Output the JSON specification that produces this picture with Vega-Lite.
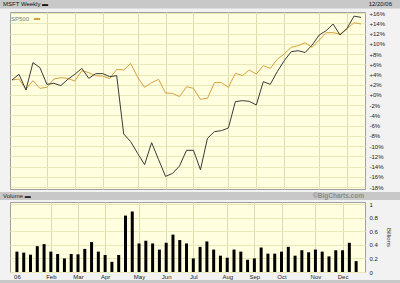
{
  "$schema": "https://vega.github.io/schema/vega-lite/v6.json",
  "background": "#f2f2f2",
  "padding": 0,
  "spacing": 0,
  "config": {
    "font": "Liberation Sans",
    "view": {"fill": "#ffffe0", "stroke": "#a0a0a0", "strokeWidth": 1},
    "axis": {"labelFont": "Liberation Sans", "labelFontSize": 6, "labelColor": "#222222", "domain": false, "ticks": false, "title": null, "gridWidth": 1},
    "text": {"font": "Liberation Sans"}
  },
  "data": {
    "values": [
      {"d": "2006-01-02", "m": 2.93, "s": 2.93, "v": 0.30},
      {"d": "2006-01-09", "m": 4.04, "s": 3.12, "v": 0.285},
      {"d": "2006-01-16", "m": 0.98, "s": 1.10, "v": 0.255},
      {"d": "2006-01-23", "m": 6.31, "s": 2.80, "v": 0.38},
      {"d": "2006-01-30", "m": 5.34, "s": 1.30, "v": 0.41},
      {"d": "2006-02-06", "m": 2.08, "s": 1.50, "v": 0.30},
      {"d": "2006-02-13", "m": 2.28, "s": 3.12, "v": 0.265},
      {"d": "2006-02-20", "m": 1.83, "s": 3.38, "v": 0.20},
      {"d": "2006-02-27", "m": 3.06, "s": 3.25, "v": 0.265},
      {"d": "2006-03-06", "m": 4.04, "s": 2.73, "v": 0.26},
      {"d": "2006-03-13", "m": 5.20, "s": 4.75, "v": 0.34},
      {"d": "2006-03-20", "m": 3.25, "s": 4.36, "v": 0.44},
      {"d": "2006-03-27", "m": 4.17, "s": 3.77, "v": 0.30},
      {"d": "2006-04-03", "m": 4.17, "s": 3.70, "v": 0.25},
      {"d": "2006-04-10", "m": 3.58, "s": 3.19, "v": 0.15},
      {"d": "2006-04-17", "m": 3.77, "s": 5.00, "v": 0.25},
      {"d": "2006-04-24", "m": -7.6, "s": 4.88, "v": 0.83},
      {"d": "2006-05-01", "m": -9.1, "s": 6.18, "v": 0.89},
      {"d": "2006-05-08", "m": -11.4, "s": 3.45, "v": 0.42},
      {"d": "2006-05-15", "m": -13.6, "s": 1.50, "v": 0.46},
      {"d": "2006-05-22", "m": -9.3, "s": 2.41, "v": 0.42},
      {"d": "2006-05-29", "m": -12.6, "s": 3.06, "v": 0.33},
      {"d": "2006-06-05", "m": -15.9, "s": 0.39, "v": 0.43},
      {"d": "2006-06-12", "m": -15.3, "s": 0.32, "v": 0.55},
      {"d": "2006-06-19", "m": -13.85, "s": -0.32, "v": 0.47},
      {"d": "2006-06-26", "m": -10.8, "s": 1.62, "v": 0.42},
      {"d": "2006-07-03", "m": -10.8, "s": 1.30, "v": 0.20},
      {"d": "2006-07-10", "m": -14.6, "s": -0.84, "v": 0.37},
      {"d": "2006-07-17", "m": -8.45, "s": -0.65, "v": 0.45},
      {"d": "2006-07-24", "m": -7.15, "s": 2.41, "v": 0.33},
      {"d": "2006-07-31", "m": -6.96, "s": 2.41, "v": 0.24},
      {"d": "2006-08-07", "m": -6.44, "s": 1.50, "v": 0.21},
      {"d": "2006-08-14", "m": -1.3, "s": 4.23, "v": 0.33},
      {"d": "2006-08-21", "m": -1.1, "s": 3.77, "v": 0.30},
      {"d": "2006-08-28", "m": -1.24, "s": 4.88, "v": 0.18},
      {"d": "2006-09-04", "m": -1.95, "s": 4.10, "v": 0.20},
      {"d": "2006-09-11", "m": 2.6, "s": 5.72, "v": 0.36},
      {"d": "2006-09-18", "m": 2.08, "s": 5.20, "v": 0.27},
      {"d": "2006-09-25", "m": 4.55, "s": 6.96, "v": 0.27},
      {"d": "2006-10-02", "m": 6.7, "s": 8.00, "v": 0.30},
      {"d": "2006-10-09", "m": 8.45, "s": 9.30, "v": 0.37},
      {"d": "2006-10-16", "m": 8.65, "s": 9.63, "v": 0.24},
      {"d": "2006-10-23", "m": 8.3, "s": 10.2, "v": 0.32},
      {"d": "2006-10-30", "m": 9.75, "s": 9.30, "v": 0.29},
      {"d": "2006-11-06", "m": 11.7, "s": 10.7, "v": 0.33},
      {"d": "2006-11-13", "m": 12.55, "s": 12.16, "v": 0.30},
      {"d": "2006-11-20", "m": 13.85, "s": 12.16, "v": 0.23},
      {"d": "2006-11-27", "m": 11.7, "s": 11.9, "v": 0.32},
      {"d": "2006-12-04", "m": 13.0, "s": 12.9, "v": 0.32},
      {"d": "2006-12-11", "m": 15.4, "s": 14.1, "v": 0.43},
      {"d": "2006-12-18", "m": 15.15, "s": 13.85, "v": 0.16}
    ],
    "format": {"parse": {"d": "date:'%Y-%m-%d'"}}
  },
  "resolve": {"scale": {"color": "independent"}, "legend": {"color": "independent"}},
  "vconcat": [
    {
      "width": 400,
      "height": 8.5,
      "view": {"fill": "#c8c8c8", "stroke": null},
      "data": {"values": [{"t": "MSFT Weekly ▬", "side": "l"}, {"t": "12/20/06", "side": "r"}]},
      "encoding": {
        "x": {"field": "side", "type": "nominal", "scale": {"type": "point", "domain": ["l", "r"], "padding": 0}, "axis": null},
        "text": {"field": "t"}
      },
      "layer": [
        {"transform": [{"filter": "datum.side == 'l'"}], "mark": {"type": "text", "align": "left", "dx": 3, "fontSize": 6, "color": "#111111", "baseline": "middle"}},
        {"transform": [{"filter": "datum.side == 'r'"}], "mark": {"type": "text", "align": "right", "dx": -8, "fontSize": 6, "color": "#111111", "baseline": "middle"}}
      ]
    },
    {
      "spacing": 0,
      "resolve": {"scale": {"color": "independent"}, "legend": {"color": "independent"}},
      "hconcat": [
        {
          "width": 9,
          "height": 180,
          "view": {"fill": null, "stroke": null},
          "data": {"values": []},
          "mark": {"type": "point", "opacity": 0}
        },
        {
          "width": 355,
          "height": 177,
          "transform": [{"fold": ["s", "m"], "as": ["k", "p"]}],
          "mark": {"type": "line", "strokeWidth": 1},
          "encoding": {
            "x": {
              "field": "d", "type": "temporal",
              "scale": {"domain": [{"year": 2005, "month": 12, "date": 31}, {"year": 2006, "month": 12, "date": 22}]},
              "axis": {
                "values": [{"year": 2006, "month": 1, "date": 2}, {"year": 2006, "month": 2, "date": 6}, {"year": 2006, "month": 3, "date": 6}, {"year": 2006, "month": 4, "date": 3}, {"year": 2006, "month": 5, "date": 8}, {"year": 2006, "month": 6, "date": 5}, {"year": 2006, "month": 7, "date": 3}, {"year": 2006, "month": 8, "date": 7}, {"year": 2006, "month": 9, "date": 4}, {"year": 2006, "month": 10, "date": 2}, {"year": 2006, "month": 11, "date": 6}, {"year": 2006, "month": 12, "date": 4}],
                "labels": false, "grid": true, "gridColor": "#dcdcae",
                "gridOpacity": {"condition": {"test": "month(datum.value) == 0", "value": 0}, "value": 1}
              }
            },
            "y": {
              "field": "p", "type": "quantitative",
              "scale": {"domain": [-18.35, 16.2], "nice": false, "zero": false},
              "axis": {
                "orient": "right", "grid": true, "gridColor": "#e8e8b8",
                "values": [-18, -16, -14, -12, -10, -8, -6, -4, -2, 0, 2, 4, 6, 8, 10, 12, 14, 16],
                "labelExpr": "(datum.value >= 0 ? '+' : '') + datum.value + '%'",
                "labelPadding": 4
              }
            },
            "color": {
              "field": "k", "type": "nominal",
              "scale": {"domain": ["s", "m"], "range": ["#d6a03c", "#3a3a3a"]},
              "legend": {
                "values": ["s"], "title": "SP500", "titleOrient": "left", "labelExpr": "''",
                "orient": "none", "legendX": 1, "legendY": 2,
                "symbolType": "stroke", "symbolStrokeWidth": 2, "symbolSize": 40,
                "titleFont": "Liberation Sans", "titleFontSize": 6, "titleFontWeight": "normal", "titleColor": "#777777", "titlePadding": 2,
                "padding": 0
              }
            }
          }
        }
      ]
    },
    {
      "width": 400,
      "height": 8,
      "view": {"fill": "#c8c8c8", "stroke": null},
      "data": {"values": [{"t": "Volume ▬", "side": "l"}, {"t": "©BigCharts.com", "side": "r"}]},
      "encoding": {
        "x": {"field": "side", "type": "nominal", "scale": {"type": "point", "domain": ["l", "r"], "padding": 0}, "axis": null},
        "text": {"field": "t"}
      },
      "layer": [
        {"transform": [{"filter": "datum.side == 'l'"}], "mark": {"type": "text", "align": "left", "dx": 3, "fontSize": 6, "color": "#222222", "baseline": "middle"}},
        {"transform": [{"filter": "datum.side == 'r'"}], "mark": {"type": "text", "align": "right", "dx": -36, "fontSize": 6.5, "fontWeight": "bold", "color": "#8a8a8a", "baseline": "middle"}}
      ]
    },
    {
      "spacing": 0,
      "hconcat": [
        {
          "width": 9,
          "height": 70,
          "view": {"fill": null, "stroke": null},
          "data": {"values": []},
          "mark": {"type": "point", "opacity": 0}
        },
        {
          "width": 355,
          "height": 70,
          "mark": {"type": "bar", "size": 3, "color": "#000000"},
          "encoding": {
            "x": {
              "field": "d", "type": "temporal",
              "scale": {"domain": [{"year": 2005, "month": 12, "date": 31}, {"year": 2006, "month": 12, "date": 22}]},
              "axis": {
                "values": [{"year": 2006, "month": 1, "date": 2}, {"year": 2006, "month": 2, "date": 6}, {"year": 2006, "month": 3, "date": 6}, {"year": 2006, "month": 4, "date": 3}, {"year": 2006, "month": 5, "date": 8}, {"year": 2006, "month": 6, "date": 5}, {"year": 2006, "month": 7, "date": 3}, {"year": 2006, "month": 8, "date": 7}, {"year": 2006, "month": 9, "date": 4}, {"year": 2006, "month": 10, "date": 2}, {"year": 2006, "month": 11, "date": 6}, {"year": 2006, "month": 12, "date": 4}],
                "labelExpr": "month(datum.value) == 0 ? '06' : timeFormat(datum.value, '%b')",
                "labelPadding": 1, "grid": true, "gridColor": "#dcdcae",
                "gridOpacity": {"condition": {"test": "month(datum.value) == 0", "value": 0}, "value": 1}
              }
            },
            "y": {
              "field": "v", "type": "quantitative",
              "scale": {"domain": [0, 1.03], "nice": false},
              "axis": {
                "orient": "right", "grid": true, "gridColor": "#e8e8b8",
                "values": [0, 0.2, 0.4, 0.6, 0.8, 1], "format": "~g",
                "labelPadding": 4, "title": "Billions", "titleAngle": 90,
                "titleFontSize": 6, "titleFontWeight": "normal", "titleColor": "#333333", "titlePadding": 8
              }
            }
          }
        }
      ]
    },
    {
      "width": 400,
      "height": 3,
      "view": {"fill": "#c8c8c8", "stroke": null},
      "data": {"values": []},
      "mark": {"type": "point", "opacity": 0}
    }
  ]
}
